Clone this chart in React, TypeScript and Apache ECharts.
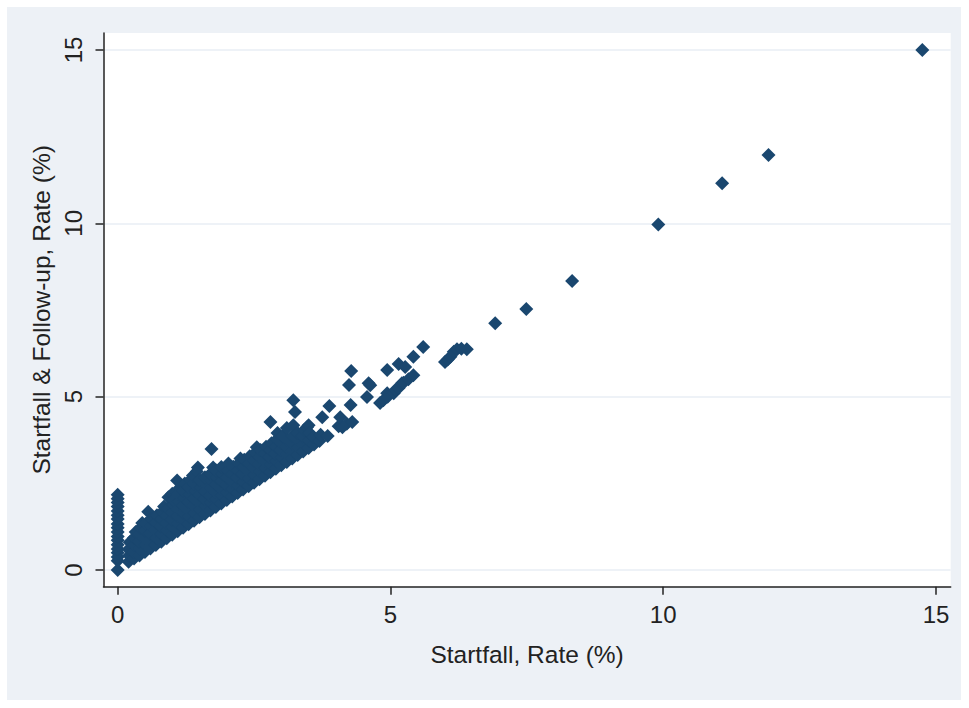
import React, { useEffect, useRef } from "react";
import * as echarts from "echarts";

// Startfall rate = 0 : follow-up rates
const zeroStartfallFollowUp = [0.0, 0.27, 0.38, 0.5, 0.61, 0.73, 0.86, 0.97, 1.1, 1.22, 1.33, 1.47, 1.58, 1.7, 1.83, 1.95, 2.06, 2.17];

// dense cluster [startfall, startfall & follow-up]
const clusterPoints: number[][] = [
  [0.2, 0.24], [0.21, 0.42], [0.2, 0.6], [0.22, 0.8],
  [0.3, 0.33], [0.29, 0.52], [0.31, 0.72], [0.3, 0.93], [0.33, 1.1],
  [0.4, 0.42], [0.41, 0.62], [0.39, 0.83], [0.4, 1.03], [0.42, 1.22], [0.45, 1.36],
  [0.5, 0.52], [0.51, 0.73], [0.49, 0.94], [0.5, 1.15], [0.52, 1.34],
  [0.56, 1.68],
  [0.6, 0.62], [0.61, 0.84], [0.59, 1.05], [0.6, 1.27], [0.62, 1.47],
  [0.7, 0.72], [0.71, 0.93], [0.69, 1.15], [0.7, 1.37], [0.72, 1.58],
  [0.8, 0.82], [0.81, 1.04], [0.79, 1.26], [0.8, 1.47], [0.82, 1.68], [0.85, 1.83],
  [0.9, 0.92], [0.91, 1.14], [0.89, 1.36], [0.9, 1.57], [0.92, 1.78], [0.93, 2.1],
  [1.0, 1.02], [1.01, 1.24], [0.99, 1.46], [1.0, 1.67], [1.02, 1.88], [1.0, 2.2], [1.03, 2.02],
  [1.1, 1.12], [1.11, 1.34], [1.09, 1.56], [1.1, 1.77], [1.12, 1.98], [1.1, 2.2], [1.13, 2.36], [1.09, 2.58],
  [1.2, 1.22], [1.21, 1.44], [1.19, 1.66], [1.2, 1.87], [1.22, 2.08], [1.2, 2.3], [1.23, 2.5],
  [1.3, 1.32], [1.31, 1.54], [1.29, 1.76], [1.3, 1.97], [1.32, 2.18], [1.3, 2.4], [1.33, 2.6],
  [1.4, 1.42], [1.41, 1.64], [1.39, 1.86], [1.4, 2.07], [1.42, 2.28], [1.4, 2.5], [1.38, 2.73],
  [1.47, 2.96], [1.45, 2.84],
  [1.5, 1.52], [1.51, 1.74], [1.49, 1.96], [1.5, 2.17], [1.52, 2.38], [1.5, 2.6],
  [1.6, 1.62], [1.61, 1.84], [1.59, 2.06], [1.6, 2.27], [1.62, 2.48], [1.6, 2.68],
  [1.72, 3.49],
  [1.7, 1.72], [1.71, 1.94], [1.69, 2.16], [1.7, 2.37], [1.72, 2.58], [1.7, 2.78], [1.75, 2.96],
  [1.8, 1.82], [1.81, 2.04], [1.79, 2.26], [1.8, 2.47], [1.82, 2.68], [1.8, 2.88],
  [1.9, 1.92], [1.91, 2.14], [1.89, 2.36], [1.9, 2.57], [1.92, 2.78], [1.9, 2.97],
  [2.0, 2.02], [2.01, 2.24], [1.99, 2.46], [2.0, 2.67], [2.02, 2.88], [2.03, 3.07],
  [2.1, 2.12], [2.11, 2.34], [2.09, 2.56], [2.1, 2.77], [2.12, 2.98],
  [2.2, 2.22], [2.21, 2.44], [2.19, 2.66], [2.2, 2.87], [2.22, 3.08], [2.25, 3.22],
  [2.3, 2.32], [2.31, 2.54], [2.29, 2.76], [2.3, 2.97], [2.32, 3.18],
  [2.4, 2.42], [2.41, 2.64], [2.39, 2.86], [2.4, 3.07], [2.42, 3.28],
  [2.5, 2.52], [2.51, 2.74], [2.49, 2.96], [2.5, 3.17], [2.52, 3.38], [2.55, 3.54],
  [2.6, 2.62], [2.61, 2.84], [2.59, 3.06], [2.6, 3.27], [2.62, 3.46],
  [2.7, 2.72], [2.71, 2.94], [2.69, 3.16], [2.7, 3.37], [2.72, 3.56],
  [2.8, 4.27],
  [2.8, 2.82], [2.81, 3.04], [2.79, 3.26], [2.8, 3.47], [2.82, 3.66],
  [2.9, 2.92], [2.91, 3.14], [2.89, 3.36], [2.9, 3.57], [2.92, 3.77], [2.93, 3.95],
  [3.0, 3.02], [3.01, 3.24], [2.99, 3.46], [3.0, 3.67], [3.02, 3.86],
  [3.1, 3.12], [3.11, 3.34], [3.09, 3.56], [3.1, 3.77], [3.1, 4.1],
  [3.2, 3.22], [3.21, 3.44], [3.19, 3.66], [3.2, 3.87], [3.22, 4.18], [3.25, 4.56], [3.22, 4.9],
  [3.3, 3.32], [3.31, 3.54], [3.29, 3.76], [3.3, 3.95],
  [3.4, 3.42], [3.41, 3.64], [3.39, 3.86], [3.42, 4.04],
  [3.47, 4.12], [3.5, 4.18],
  [3.5, 3.52], [3.51, 3.74], [3.52, 3.95],
  [3.6, 3.62], [3.59, 3.84],
  [3.7, 3.72], [3.72, 3.9],
  [3.75, 4.41], [3.88, 4.73], [3.85, 3.87],
  [4.05, 4.15], [4.12, 4.12], [4.08, 4.41], [4.2, 4.22], [4.3, 4.27], [4.27, 4.76], [4.24, 5.34], [4.28, 5.74],
];

// sparse upper range
const sparsePoints: number[][] = [
  [4.57, 4.99], [4.6, 5.39], [4.63, 5.33], [4.81, 4.82], [4.87, 4.9], [4.94, 5.1], [4.95, 5.0],
  [5.06, 5.1], [5.09, 5.19], [5.15, 5.25], [5.21, 5.39], [5.24, 5.4], [5.33, 5.5], [5.42, 5.62],
  [4.94, 5.77], [5.15, 5.94], [5.27, 5.86], [5.42, 6.15], [5.6, 6.43],
  [6.0, 6.0], [6.05, 6.07], [6.1, 6.15], [6.16, 6.3], [6.22, 6.37], [6.3, 6.38], [6.4, 6.37],
  [6.92, 7.12], [7.49, 7.53], [8.33, 8.34], [9.91, 9.97], [11.08, 11.16], [11.93, 11.97], [14.75, 15.0],
];

const tickValues = [0, 5, 10, 15];
const xTitle = "Startfall, Rate (%)";
const yTitle = "Startfall & Follow-up, Rate (%)";

export default function App() {
  const ref = useRef<HTMLDivElement>(null);
  useEffect(() => {
    if (!ref.current) return;
    const chart = echarts.init(ref.current, null, { renderer: "svg" });
    const font = "'Liberation Sans', Arial, sans-serif";
    const data = [
      ...zeroStartfallFollowUp.map((v) => [0, v]),
      ...clusterPoints,
      ...sparsePoints,
    ];
    chart.setOption({
      animation: false,
      backgroundColor: "#edf1f6",
      grid: {
        show: true,
        backgroundColor: "#ffffff",
        borderWidth: 0,
        left: 96.5,
        right: 10.3,
        top: 26,
        bottom: 113.3,
      },
      xAxis: {
        type: "value",
        min: -0.26,
        max: 15.27,
        name: xTitle,
        nameLocation: "middle",
        nameGap: 55,
        nameTextStyle: { fontFamily: font, fontSize: 24.5, color: "#222" },
        axisLine: { show: true, onZero: false, lineStyle: { color: "#222", width: 1.5 } },
        axisTick: { show: true, customValues: tickValues, length: 8, lineStyle: { color: "#222", width: 1.5 } },
        axisLabel: { customValues: tickValues, margin: 16, fontFamily: font, fontSize: 24, color: "#222" },
        splitLine: { show: false },
      },
      yAxis: {
        type: "value",
        min: -0.48,
        max: 15.49,
        name: yTitle,
        nameLocation: "middle",
        nameGap: 38,
        nameTextStyle: { fontFamily: font, fontSize: 24.5, color: "#222" },
        axisLine: { show: true, onZero: false, lineStyle: { color: "#222", width: 1.5 } },
        axisTick: { show: true, customValues: tickValues, length: 8, lineStyle: { color: "#222", width: 1.5 } },
        axisLabel: { customValues: tickValues, margin: 18, rotate: 90, fontFamily: font, fontSize: 24, color: "#222" },
        splitLine: { show: true, lineStyle: { color: "#e8eef5", width: 1.5 } },
      },
      series: [
        {
          type: "scatter",
          data,
          symbol: "diamond",
          symbolSize: 14,
          itemStyle: { color: "#1a476f", opacity: 1 },
          large: false,
        },
      ],
    });
    return () => chart.dispose();
  }, []);
  return (
    <div style={{ position: "fixed", left: 0, top: 0, width: 969, height: 708, background: "#ffffff" }}>
      <div ref={ref} style={{ position: "absolute", left: 7, top: 7, width: 954, height: 693 }} />
    </div>
  );
}
